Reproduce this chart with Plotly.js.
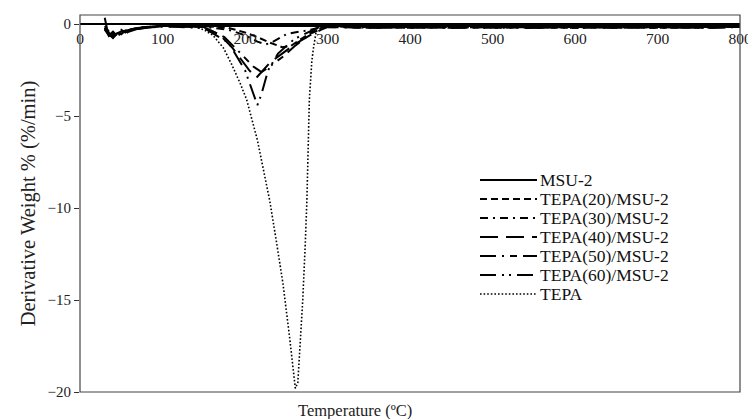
<!DOCTYPE html>
<html><head><meta charset="utf-8">
<script src="https://cdn.plot.ly/plotly-3.0.1.min.js"></script>
<style>body{margin:0;background:#fff}#chart{width:748px;height:419px}</style>
</head><body><div id="chart"></div>
<script>
// Temperature (°C) grids and derivative weight (%/min) for each sample
const tMSU = [30,33,36,40,45,50,55,60,70,80,100,150,200,250,300,350,400,450,500,550,600,650,700,750,800];
const yMSU = [0.35,-0.3,-0.55,-0.7,-0.5,-0.4,-0.35,-0.3,-0.2,-0.15,-0.1,-0.1,-0.1,-0.12,-0.1,-0.1,-0.12,-0.1,-0.12,-0.1,-0.12,-0.1,-0.12,-0.1,-0.1];

const t20 = [30,35,40,45,50,55,60,70,80,100,150,180,200,215,230,245,255,265,280,295,310,350,400,450,500,550,600,650,700,750,800];
const y20 = [-0.1,-0.4,-0.6,-0.5,-0.3,-0.45,-0.3,-0.2,-0.15,-0.1,-0.1,-0.2,-0.45,-0.7,-1.0,-1.25,-1.2,-0.9,-0.45,-0.15,-0.1,-0.15,-0.2,-0.15,-0.2,-0.15,-0.2,-0.15,-0.2,-0.15,-0.15];

const t30 = [30,35,40,45,50,55,60,70,80,100,150,180,200,215,225,232,240,250,260,275,290,305,350,400,450,500,550,600,650,700,750,800];
const y30 = [-0.2,-0.5,-0.7,-0.45,-0.55,-0.35,-0.3,-0.25,-0.15,-0.1,-0.15,-0.3,-0.6,-0.95,-1.1,-1.0,-0.8,-0.55,-0.45,-0.35,-0.2,-0.1,-0.15,-0.2,-0.15,-0.2,-0.15,-0.2,-0.15,-0.2,-0.15,-0.15];

const t40 = [30,35,40,45,50,55,60,70,80,100,150,170,185,194,205,214,222,230,245,260,279,299,350,400,450,500,550,600,650,700,750,800];
const y40 = [-0.3,-0.6,-0.4,-0.65,-0.5,-0.35,-0.4,-0.25,-0.2,-0.1,-0.15,-0.6,-1.3,-1.85,-2.5,-2.9,-2.5,-2.1,-1.6,-1.1,-0.6,-0.15,-0.2,-0.15,-0.2,-0.15,-0.2,-0.15,-0.2,-0.15,-0.2,-0.15];

const t50 = [30,35,40,45,50,55,60,70,80,100,150,175,195,210,220,230,245,260,280,300,350,400,450,500,550,600,650,700,750,800];
const y50 = [-0.25,-0.55,-0.75,-0.5,-0.4,-0.55,-0.35,-0.25,-0.2,-0.12,-0.15,-0.7,-1.6,-2.3,-2.6,-2.3,-1.8,-1.2,-0.5,-0.15,-0.2,-0.15,-0.2,-0.15,-0.2,-0.15,-0.2,-0.15,-0.2,-0.15];

const t60 = [30,35,40,45,50,55,60,70,80,100,150,180,200,210,215,220,228,240,260,290,305,350,400,450,500,550,600,650,700,750,800];
const y60 = [-0.2,-0.65,-0.5,-0.7,-0.45,-0.4,-0.3,-0.25,-0.2,-0.12,-0.2,-1.0,-2.5,-3.8,-4.4,-3.8,-2.5,-1.6,-0.8,-0.15,-0.1,-0.2,-0.15,-0.2,-0.15,-0.2,-0.15,-0.2,-0.15,-0.2,-0.15];

const tTEPA = [30,60,100,121,140,150,161,174,184,194,202,215,222,230,238,246,254,261,264,267,270,273,275,278,281,283,287,295,350,400,500,600,700,800];
const yTEPA = [0,0,0,-0.05,-0.15,-0.3,-0.6,-1.3,-2.2,-3.2,-4.1,-6.3,-7.8,-9.6,-11.8,-14.1,-17,-19.8,-19.5,-17.5,-15,-12,-9.6,-4.1,-2.0,-1.3,-0.2,0,0,0,0,0,0,0];

const names = ['MSU-2','TEPA(20)/MSU-2','TEPA(30)/MSU-2','TEPA(40)/MSU-2','TEPA(50)/MSU-2','TEPA(60)/MSU-2','TEPA'];
const xs = [tMSU,t20,t30,t40,t50,t60,tTEPA];
const ys = [yMSU,y20,y30,y40,y50,y60,yTEPA];
const dashes = ['solid','7px,4px','8px,5px,2px,5px','18px,8px','16px,6px,2px,6px,7px,6px','16px,6px,2px,5px,2px,6px','1.6px,2px'];
const widths = [2,2,2,2,2,2,1.6];

const xTicks = [0,100,200,300,400,500,600,700,800];
const yTicks = [0,-5,-10,-15,-20];

const traces = names.map((n,i)=>({
  x: xs[i], y: ys[i], name: n, type:'scatter', mode:'lines', showlegend:false,
  line:{color:'#000', width:widths[i], dash:dashes[i]}
}));

const serif = 'Liberation Serif, Times New Roman, serif';
// plot-area geometry (pixels) used to place the hand-drawn legend
const L=80, R=740, T=15, B=392;
const px = v => (v-L)/(R-L), py = v => (B-v)/(B-T);
const legShapes = [], legAnn = [];
names.forEach((n,i)=>{
  const yy = py(180 + i*19);
  legShapes.push({type:'line', xref:'paper', yref:'paper', x0:px(480), x1:px(537), y0:yy, y1:yy,
    line:{color:'#000', width:widths[i], dash:dashes[i]}});
  legAnn.push({text:n, xref:'paper', yref:'paper', x:px(539), y:yy, xanchor:'left', yanchor:'middle',
    showarrow:false, borderpad:0, font:{family:serif, size:17.5, color:'#111'}});
});

const layout = {
  width:748, height:419,
  margin:{l:80, r:8, t:15, b:27},
  paper_bgcolor:'#fff', plot_bgcolor:'#fff',
  showlegend:false,
  xaxis:{range:[0,800], tickvals:xTicks, ticktext:xTicks.map(String),
    anchor:'free', position:20/20.5, showline:false, showgrid:false, zeroline:false,
    ticks:'', ticklabelstandoff:3, ticklabeloverflow:'allow',
    tickfont:{family:serif, size:15.5, color:'#222'},
    title:{text:''}},
  yaxis:{range:[-20,0.5], tickvals:yTicks, showgrid:false,
    zeroline:true, zerolinecolor:'#000', zerolinewidth:1.5,
    showline:false, ticks:'outside', ticklen:5, tickcolor:'#333',
    tickfont:{family:serif, size:15, color:'#222'},
    title:{text:'Derivative Weight % (%/min)', font:{family:serif, size:20.5, color:'#222'}, standoff:6}},
  shapes:[{type:'rect', xref:'paper', yref:'paper', x0:0, x1:1, y0:0, y1:1,
    line:{color:'#444', width:1.2}}].concat(legShapes),
  annotations:[{text:'Temperature (ºC)', xref:'paper', yref:'paper', x:px(355), y:0,
    xanchor:'center', yanchor:'top', yshift:-7, showarrow:false,
    font:{family:serif, size:16.5, color:'#222'}}].concat(legAnn)
};
Plotly.newPlot('chart', traces, layout, {displayModeBar:false, staticPlot:true});
</script></body></html>
